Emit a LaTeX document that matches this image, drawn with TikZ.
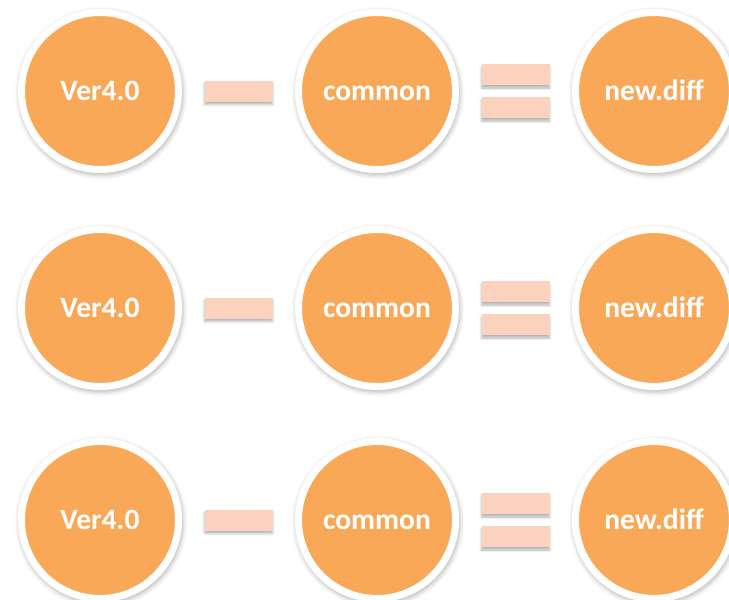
\documentclass[tikz,border=0pt]{standalone}
\usepackage{fontspec}
\setmainfont{Carlito}
\usetikzlibrary{shadows.blur}

\definecolor{diffOrange}{RGB}{249,168,87}
\definecolor{diffBar}{RGB}{251,210,190}

\begin{document}
\begin{tikzpicture}[node distance={138.5pt},
  main/.style = {draw=white, circle, line width=7pt, fill=diffOrange, minimum size=157pt, inner sep=0pt,
    text=white, font=\fontsize{29.5}{31}\selectfont\bfseries, text height=20pt, text depth=2pt,
    blur shadow={shadow scale=1.05, shadow xshift=1pt, shadow yshift=-2pt, shadow blur radius=4pt, shadow opacity=25}},
  bar/.style = {rectangle, fill=diffBar, minimum width=68pt, minimum height=21pt, inner sep=0pt,
    blur shadow={shadow xshift=0pt, shadow yshift=-3pt, shadow blur radius=2.5pt, shadow opacity=30}}]
  \useasboundingbox (0pt,0pt) rectangle (729pt,-600pt);
  % row 1
  \node[main] (v1) at (100pt,-91pt) {Ver4.0};
  \node[bar] (m1) [right of=v1] {};
  \node[main] (c1) [right of=m1] {common};
  \coordinate[right of=c1] (e1);
  \node[bar] (e1a) at ([yshift=16.5pt]e1) {};
  \node[bar] (e1b) at ([yshift=-16.5pt]e1) {};
  \node[main] (d1) [right of=e1] {new.diff};
  % row 2
  \node[main] (v2) [below of=v1, node distance=217pt] {Ver4.0};
  \node[bar] (m2) [right of=v2] {};
  \node[main] (c2) [right of=m2] {common};
  \coordinate[right of=c2] (e2);
  \node[bar] (e2a) at ([yshift=16.5pt]e2) {};
  \node[bar] (e2b) at ([yshift=-16.5pt]e2) {};
  \node[main] (d2) [right of=e2] {new.diff};
  % row 3
  \node[main] (v3) [below of=v2, node distance=212pt] {Ver4.0};
  \node[bar] (m3) [right of=v3] {};
  \node[main] (c3) [right of=m3] {common};
  \coordinate[right of=c3] (e3);
  \node[bar] (e3a) at ([yshift=16.5pt]e3) {};
  \node[bar] (e3b) at ([yshift=-16.5pt]e3) {};
  \node[main] (d3) [right of=e3] {new.diff};
\end{tikzpicture}
\end{document}
